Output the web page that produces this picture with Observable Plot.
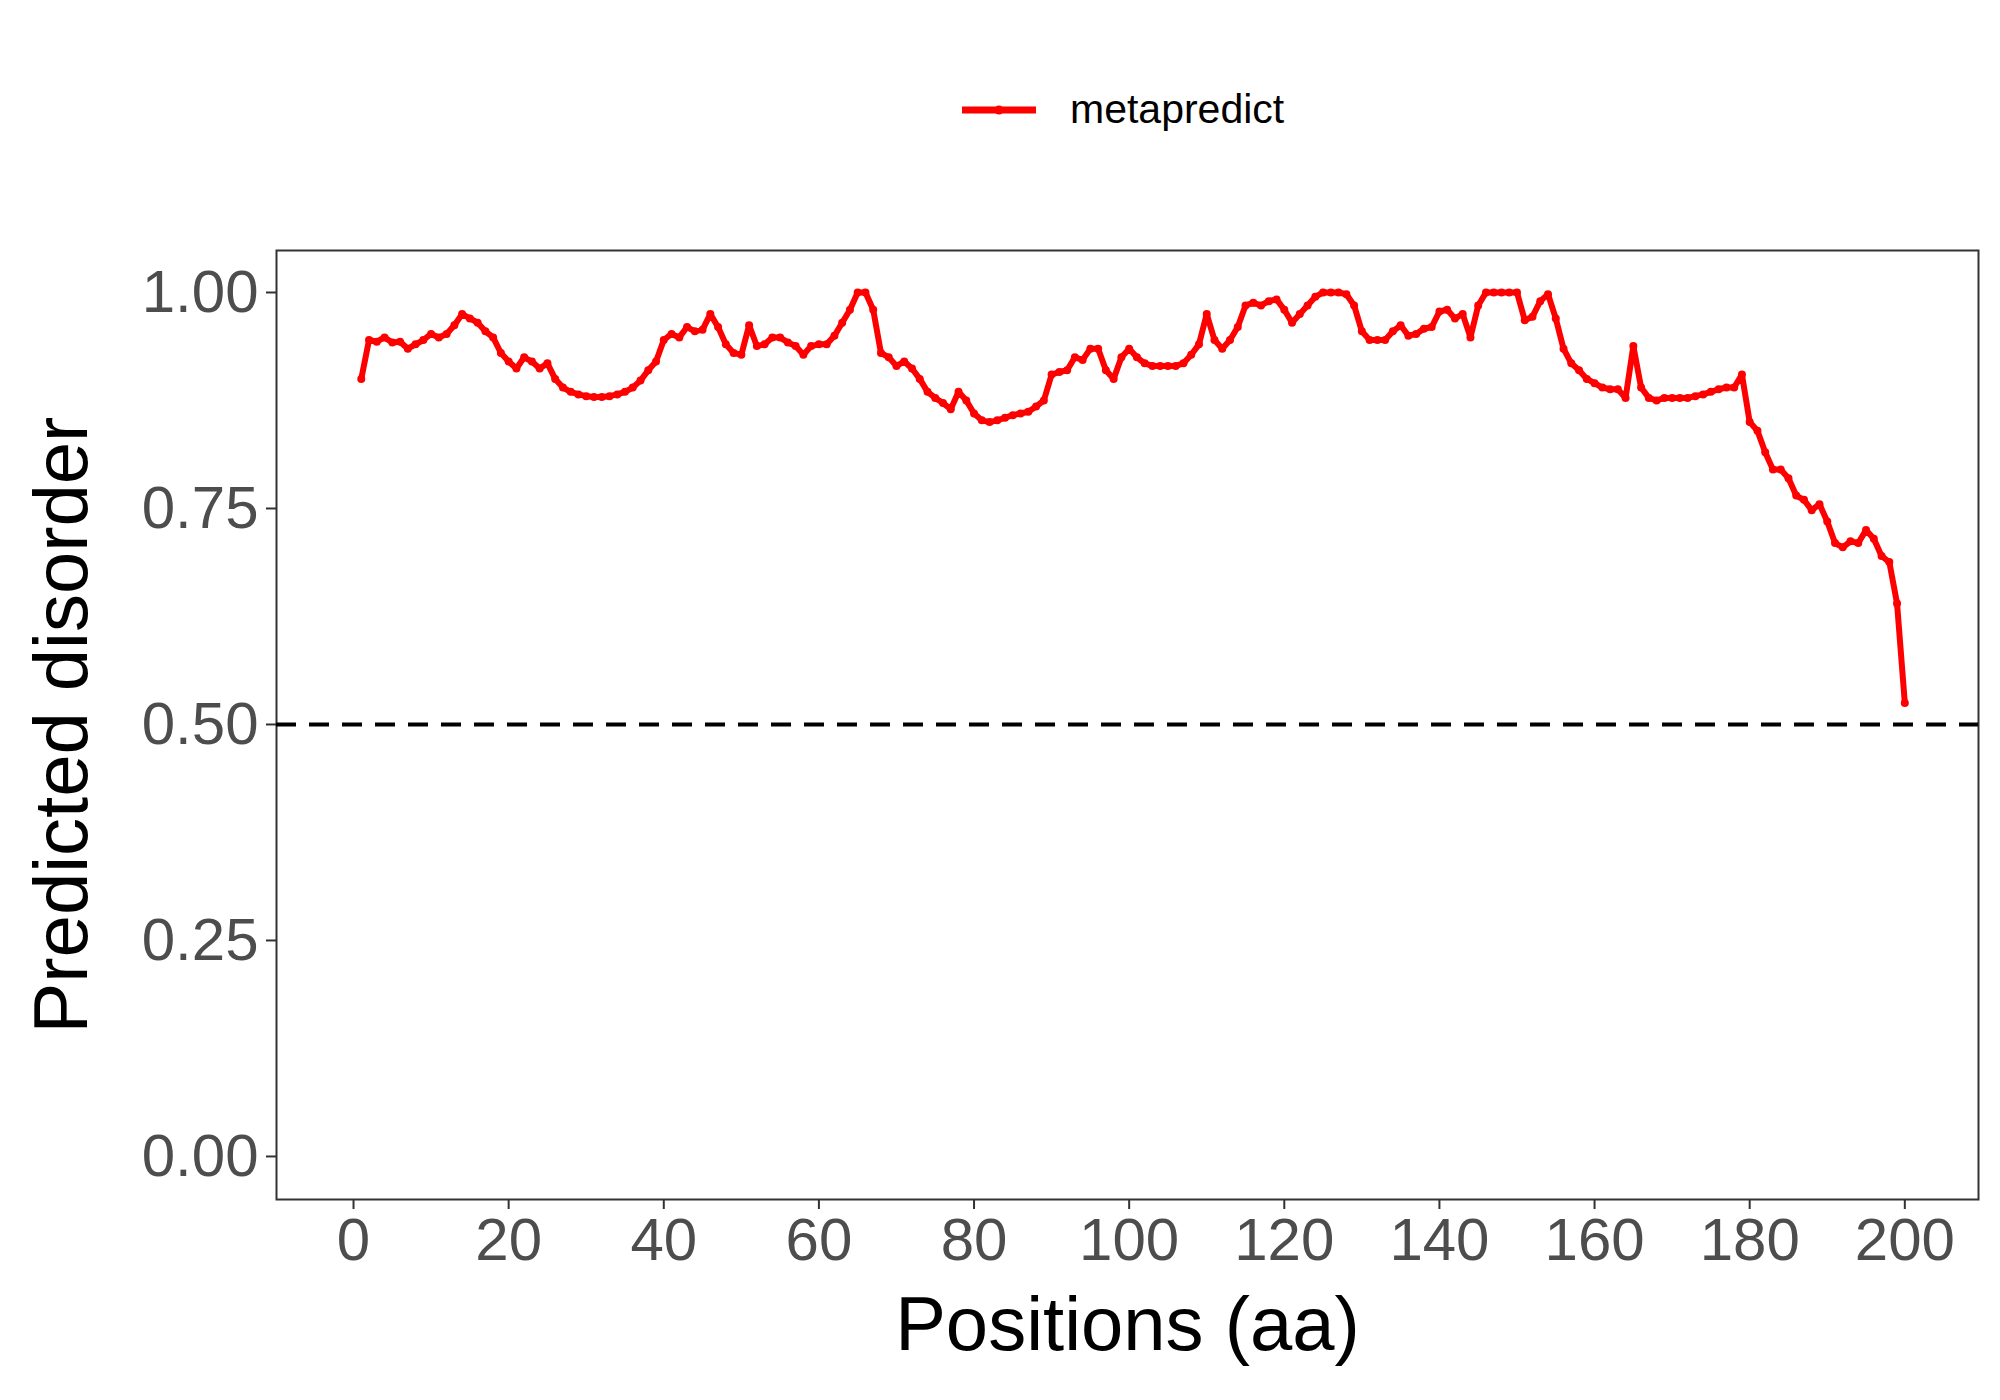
<!DOCTYPE html>
<html>
<head>
<meta charset="utf-8">
<script src="https://cdn.jsdelivr.net/npm/d3@7"></script>
<script src="https://cdn.jsdelivr.net/npm/@observablehq/plot@0.6"></script>
<style>
  body { margin: 0; background: #fff; font-family: "Liberation Sans", Arial, sans-serif; }
  #wrap { position: relative; width: 2000px; height: 1400px; }
  #legend { position: absolute; top: 86px; left: 960px; display: flex; align-items: center; font-size: 41px; color: #000; }
  #legend svg { margin-right: 32px; }
</style>
</head>
<body>
<div id="wrap">
  <div id="legend">
    <svg width="78" height="20"><line x1="2" y1="10" x2="76" y2="10" stroke="red" stroke-width="7"/><circle cx="39" cy="10" r="4.5" fill="red"/></svg>
    <span>metapredict</span>
  </div>
  <div id="chart"></div>
</div>
<script>
var disorder = [
  0.90, 0.945, 0.943, 0.948, 0.942, 0.943, 0.935, 0.94, 0.945, 0.952,
  0.948, 0.952, 0.962, 0.975, 0.97, 0.965, 0.955, 0.948, 0.93, 0.92,
  0.912, 0.925, 0.92, 0.912, 0.918, 0.90, 0.89, 0.885, 0.882, 0.88,
  0.879, 0.879, 0.88, 0.882, 0.885, 0.89, 0.898, 0.91, 0.92, 0.945,
  0.952, 0.948, 0.96, 0.955, 0.957, 0.975, 0.96, 0.94, 0.93, 0.928,
  0.962, 0.938, 0.94, 0.948, 0.948, 0.942, 0.938, 0.928, 0.938, 0.94,
  0.94, 0.95, 0.965, 0.98, 1.0, 1.0, 0.98, 0.93, 0.925, 0.915,
  0.92, 0.912, 0.90, 0.885, 0.878, 0.872, 0.865, 0.885, 0.875, 0.86,
  0.852, 0.85, 0.852, 0.855, 0.858, 0.86, 0.862, 0.868, 0.875, 0.905,
  0.908, 0.91, 0.925, 0.922, 0.935, 0.935, 0.91, 0.90, 0.925, 0.935,
  0.925, 0.918, 0.915, 0.915, 0.915, 0.915, 0.918, 0.928, 0.94, 0.975,
  0.945, 0.935, 0.945, 0.96, 0.985, 0.988, 0.985, 0.99, 0.992, 0.98,
  0.965, 0.975, 0.985, 0.995, 1.0, 1.0, 1.0, 0.998, 0.985, 0.955,
  0.945, 0.945, 0.945, 0.955, 0.962, 0.95, 0.952, 0.958, 0.96, 0.978,
  0.98, 0.97, 0.975, 0.948, 0.985, 1.0, 1.0, 1.0, 1.0, 1.0,
  0.968, 0.972, 0.99, 0.998, 0.97, 0.935, 0.918, 0.91, 0.90, 0.895,
  0.89, 0.888, 0.888, 0.878, 0.938, 0.89, 0.878, 0.875, 0.878, 0.878,
  0.878, 0.878, 0.88, 0.882, 0.885, 0.888, 0.89, 0.89, 0.905, 0.85,
  0.84, 0.815, 0.795, 0.795, 0.785, 0.765, 0.76, 0.748, 0.755, 0.735,
  0.71, 0.705, 0.712, 0.71, 0.725, 0.715, 0.695, 0.688, 0.64, 0.525
]
var xTicks = d3.range(0, 201, 20)
var yTicks = [0, 0.25, 0.5, 0.75, 1]
var threshold = 0.5

var data = disorder.map((v, i) => ({position: i + 1, disorder: v}))

var chart = Plot.plot({
  width: 2000,
  height: 1400,
  marginTop: 250,
  marginBottom: 201,
  marginLeft: 276,
  marginRight: 22,
  style: {fontFamily: "Liberation Sans, Arial, sans-serif", background: "white"},
  x: {domain: [-9.93, 209.5], ticks: xTicks, label: null},
  y: {domain: [-0.0498, 1.0486], ticks: yTicks, label: null},
  marks: [
    Plot.frame({stroke: "#333", strokeWidth: 2}),
    Plot.ruleY([threshold], {stroke: "black", strokeWidth: 4, strokeDasharray: "20,13"}),
    Plot.line(data, {x: "position", y: "disorder", stroke: "red", strokeWidth: 6}),
    Plot.dot(data, {x: "position", y: "disorder", fill: "red", r: 4}),
    Plot.axisX({ticks: xTicks, tickSize: 10, tickPadding: 8, fontSize: 60, fill: "#4d4d4d", stroke: "#333", strokeWidth: 2, tickFormat: d => d}),
    Plot.axisY({ticks: yTicks, tickSize: 10, tickPadding: 8, fontSize: 60, fill: "#4d4d4d", stroke: "#333", strokeWidth: 2, tickFormat: d3.format(".2f")}),
    Plot.text(["Positions (aa)"], {frameAnchor: "bottom", dy: 150, fontSize: 76, fill: "black"}),
    Plot.text(["Predicted disorder"], {frameAnchor: "left", textAnchor: "middle", dx: -214, rotate: -90, fontSize: 76, fill: "black"})
  ]
})
d3.select('#chart').append(() => chart)
</script>
</body>
</html>
